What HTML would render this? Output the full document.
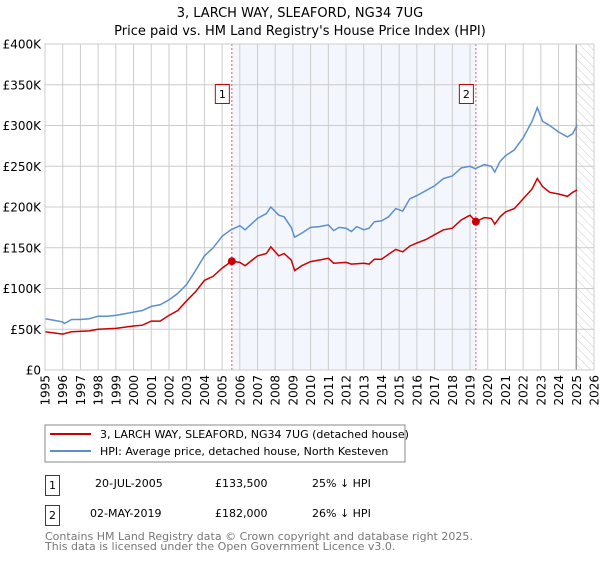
<!DOCTYPE html>
<html><head><meta charset="utf-8"><style>
body{margin:0;background:#fff;font-family:"DejaVu Sans","Liberation Sans",sans-serif;}
svg text{font-family:"DejaVu Sans","Liberation Sans",sans-serif;}
</style></head><body>
<svg id="c" width="600" height="560" xmlns="http://www.w3.org/2000/svg">
<defs><pattern id="hatch" width="6" height="6" patternUnits="userSpaceOnUse" patternTransform="rotate(-45)"><line x1="0" y1="0" x2="0" y2="6" stroke="#ccc" stroke-width="1"/></pattern></defs>
<text x="300" y="17" text-anchor="middle" font-size="13">3, LARCH WAY, SLEAFORD, NG34 7UG</text>
<text x="300" y="35" text-anchor="middle" font-size="13">Price paid vs. HM Land Registry's House Price Index (HPI)</text>
<g id="plot"></g>
<rect x="45" y="425" width="360" height="37" fill="#fff" stroke="#888"/>
<line x1="50" y1="434" x2="91" y2="434" stroke="#cc0000" stroke-width="2"/>
<text x="100" y="438" font-size="11">3, LARCH WAY, SLEAFORD, NG34 7UG (detached house)</text>
<line x1="50" y1="451" x2="91" y2="451" stroke="#5b8fd0" stroke-width="2"/>
<text x="100" y="455" font-size="11">HPI: Average price, detached house, North Kesteven</text>
<g font-size="11">
<rect x="45.5" y="475.5" width="14" height="20" fill="#fff" stroke="#cc0000"/><text x="52.5" y="489" text-anchor="middle">1</text>
<text x="95" y="487">20-JUL-2005</text><text x="215" y="487">£133,500</text><text x="312" y="487">25% ↓ HPI</text>
<rect x="45.5" y="505.5" width="14" height="20" fill="#fff" stroke="#cc0000"/><text x="52.5" y="519" text-anchor="middle">2</text>
<text x="90" y="517">02-MAY-2019</text><text x="215" y="517">£182,000</text><text x="312" y="517">26% ↓ HPI</text>
</g>
<text x="45" y="540" font-size="11" fill="#777">Contains HM Land Registry data © Crown copyright and database right 2025.</text>
<text x="45" y="550" font-size="11" fill="#777">This data is licensed under the Open Government Licence v3.0.</text>
</svg>
<script>
const hpiDates=[1995,1995.5,1996,1996.1,1996.5,1997,1997.5,1998,1998.5,1999,1999.5,2000,2000.5,2001,2001.5,2002,2002.5,2003,2003.5,2004,2004.5,2005,2005.5,2006,2006.3,2006.7,2007,2007.5,2007.75,2008.2,2008.5,2008.9,2009.1,2009.5,2010,2010.5,2011,2011.3,2011.6,2012,2012.3,2012.6,2013,2013.3,2013.6,2014,2014.4,2014.8,2015.2,2015.6,2016,2016.5,2017,2017.5,2018,2018.5,2019,2019.3,2019.8,2020.2,2020.4,2020.7,2021,2021.5,2022,2022.5,2022.8,2023.1,2023.5,2024,2024.5,2024.8,2025.05];
const hpiValues=[63,61,59,57,62,62,63,66,66,67,69,71,73,78,80,86,94,105,122,140,150,164,172,177,172,180,186,192,200,190,188,175,163,168,175,176,178,171,175,174,170,176,172,174,182,183,188,198,195,210,214,220,226,235,238,248,250,247,252,250,243,256,263,270,285,305,322,305,300,292,286,290,301];
const priceDates=[1995,1996,1996.5,1997.5,1998,1999,2000,2000.5,2001,2001.5,2002,2002.5,2003,2003.5,2004,2004.5,2005,2005.55,2006,2006.3,2007,2007.5,2007.75,2008.2,2008.5,2008.9,2009.1,2009.5,2010,2010.5,2011,2011.3,2012,2012.3,2013,2013.3,2013.6,2014,2014.4,2014.8,2015.2,2015.6,2016,2016.5,2017,2017.5,2018,2018.5,2019,2019.33,2019.8,2020.2,2020.4,2020.7,2021,2021.5,2022,2022.5,2022.8,2023.1,2023.5,2024,2024.5,2024.8,2025.05];
const priceValues=[47,44,47,48,50,51,54,55,60,60,67,73,85,96,110,115,125,133.5,132,128,140,143,151,140,143,135,122,128,133,135,137,131,132,130,131,130,136,136,142,148,145,152,156,160,166,172,174,184,190,182,187,186,179,188,194,198,210,222,235,225,218,216,213,218,221];
const saleDates=[2005.55,2019.33];
const saleValues=[133.5,182];
const saleLabels=["1","2"];
const yTicks=[0,50,100,150,200,250,300,350,400];
const yTickLabels=["£0","£50K","£100K","£150K","£200K","£250K","£300K","£350K","£400K"];
const xTicks=[];for(let y=1995;y<=2026;y++)xTicks.push(y);

const X0=45,X1=594,Y0=370,Y1=44;
const xs=d=>X0+(d-1995)/(2026-1995)*(X1-X0);
const ys=v=>Y0-v/400*(Y0-Y1);
const NS="http://www.w3.org/2000/svg";
const g=document.getElementById('plot');
function mk(t,a){const e=document.createElementNS(NS,t);for(const k in a)e.setAttribute(k,a[k]);g.appendChild(e);return e;}
let e;
e=mk('rect',{x:xs(saleDates[0]),y:Y1,width:xs(saleDates[1])-xs(saleDates[0]),height:Y0-Y1,fill:'#eef3fc',opacity:0.7});


e=mk('rect',{x:xs(2025),y:Y1,width:X1-xs(2025),height:Y0-Y1,fill:'url(#hatch)'});


yTicks.forEach((t,i)=>{
 e=mk('line',{x1:X0,x2:X1,y1:ys(t),y2:ys(t),stroke:'#ccc'});
 
 
 e=mk('text',{x:41,y:ys(t)+4.5,'text-anchor':'end','font-size':12});
 e.textContent=yTickLabels[i];
 
 
});
xTicks.forEach(t=>{
 e=mk('line',{x1:xs(t),x2:xs(t),y1:Y1,y2:Y0,stroke:'#ccc'});
 
 
 e=mk('text',{x:0,y:0,'text-anchor':'end','font-size':12,transform:`translate(${xs(t)+4.5},375) rotate(-90)`});
 e.textContent=t;
 
 
});
e=mk('line',{x1:xs(2025),x2:xs(2025),y1:Y1,y2:Y0,stroke:'#999','stroke-width':1.5});


saleDates.forEach((d,i)=>{
 e=mk('line',{x1:xs(d),x2:xs(d),y1:Y1,y2:Y0,stroke:'#e06060','stroke-dasharray':'2,2'});
 
 
});
function path(ds,vs){return ds.map((d,i)=>(i?'L':'M')+xs(d).toFixed(1)+','+ys(vs[i]).toFixed(1)).join('');}
e=mk('path',{d:path(hpiDates,hpiValues),fill:'none',stroke:'#5b8fd0','stroke-width':1.5});


e=mk('path',{d:path(priceDates,priceValues),fill:'none',stroke:'#cc0000','stroke-width':1.5});


saleDates.forEach((d,i)=>{
 e=mk('circle',{cx:xs(d),cy:ys(saleValues[i]),r:4,fill:'#cc0000'});
 
 
 e=mk('rect',{x:xs(d)-16.5,y:84.5,width:14,height:19,fill:'#fff',stroke:'#cc0000'});
 
 
 e=mk('text',{x:xs(d)-9.5,y:98,'text-anchor':'middle','font-size':11});
 e.textContent=saleLabels[i];
 
 
});
e=mk('rect',{x:X0,y:Y1,width:X1-X0,height:Y0-Y1,fill:'none',stroke:'#ccc'});


</script>
</body></html>
